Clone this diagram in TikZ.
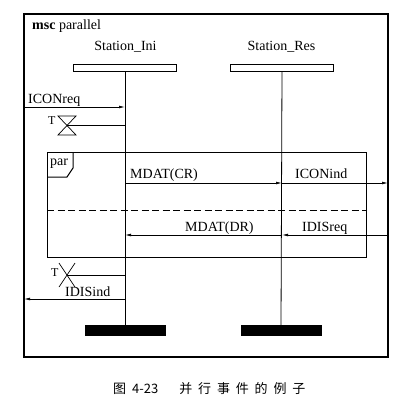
\documentclass[tikz,border=0pt]{standalone}
\usepackage{fontspec}
\setmainfont{Liberation Serif}
\newfontfamily\cjk{Noto Sans CJK SC}
\usetikzlibrary{arrows.meta,positioning}

\tikzset{
  msctext/.style={font=\fontsize{14}{16}\selectfont, inner sep=0pt, anchor=base west},
  msgarrow/.style={-{Latex[length=6pt,width=2.8pt]}, line width=0.7pt},
  headbox/.style={draw, line width=1pt, minimum width=103pt, minimum height=7pt, inner sep=0pt},
  lifeline/.style={line width=0.8pt},
  endbar/.style={fill=black, minimum width=81pt, minimum height=11pt, inner sep=0pt, anchor=north},
}

\begin{document}
\begin{tikzpicture}[x=1pt, y=-1pt]
    \useasboundingbox (0,0) rectangle (411,410);

    % --- 1. MSC frame ---
    \coordinate (frameNW) at (24,14);
    \coordinate (frameSE) at (388,357);
    \draw[line width=1.3pt] (frameNW) rectangle (frameSE);
    \node[msctext] (title) at (32,29.5) {\textbf{msc} parallel};

    % --- 2. Instances: heads, lifelines, ends ---
    \node[headbox] (ini) at (125,67.5) {};
    \node[msctext, anchor=base] (iniName) at (125.5,50) {Station\_Ini};
    \node[endbar] (iniBar) at (125,325) {};
    \draw[lifeline] (ini.south) -- (iniBar.north);

    \node[headbox] (res) at (282,67.5) {};
    \node[msctext, anchor=base] (resName) at (281.5,50) {Station\_Res};
    \node[endbar] (resBar) at (281,325) {};
    \draw[lifeline] (res.south) -- (resBar.north);

    % --- 3. ICONreq and timer set ---
    \coordinate (reqIn) at (24,107);
    \draw[msgarrow] (reqIn) -- (reqIn -| ini);
    \node[msctext] (reqLabel) at (28,103) {ICONreq};

    \coordinate (setT) at (67,125.5);
    \draw[line width=0.7pt] (58,116) -- (76,116) -- (58,135) -- (76,135) -- cycle;
    \draw[lifeline] (setT) -- (setT -| ini);
    \node[msctext, font=\fontsize{12}{14}\selectfont] (setLabel) at (48,124.5) {T};

    % --- 4. Parallel inline expression ---
    \draw[line width=1pt] (47,152) rectangle (366,257);
    \draw[line width=1pt] (47,177) -- (67,177) -- (73,168) -- (73,152);
    \node[msctext] (parLabel) at (50,165) {par};
    \draw[line width=0.7pt, dash pattern=on 7pt off 3.5pt] (47,210) -- (366,210);

    % first operand: CR / ICONind
    \coordinate (crRow) at (0,183);
    \draw[msgarrow] (crRow -| ini) -- (crRow -| res);
    \draw[msgarrow] (crRow -| res) -- (crRow -| frameSE);
    \node[msctext] (crLabel) at (130,178.5) {MDAT(CR)};
    \node[msctext] (indLabel) at (295,178.5) {ICONind};

    % second operand: IDISreq / DR
    \coordinate (drRow) at (0,235);
    \draw[msgarrow] (drRow -| frameSE) -- (drRow -| res);
    \draw[msgarrow] (drRow -| res) -- (drRow -| ini);
    \node[msctext] (drLabel) at (185,231) {MDAT(DR)};
    \node[msctext] (disLabel) at (302,231) {IDISreq};

    % --- 5. Timeout and IDISind ---
    \coordinate (outT) at (67,275);
    \draw[line width=0.7pt] (59,263) -- (75,287) (59,287) -- (75,263);
    \draw[lifeline] (outT) -- (outT -| ini);
    \node[msctext, font=\fontsize{12}{14}\selectfont] (outLabel) at (51,276) {T};

    \coordinate (disRow) at (0,299);
    \draw[msgarrow] (disRow -| ini) -- (disRow -| frameNW);
    \node[msctext] (disIndLabel) at (65,296.5) {IDISind};

    % --- 6. Caption ---
    \node[inner sep=0pt, anchor=base west, font=\fontsize{13}{15}\selectfont] (caption) at (113,393)
        {\cjk 图\hspace{6pt}4-23\hspace{21pt}\addfontfeature{LetterSpace=45}并行事件的例子};
\end{tikzpicture}
\end{document}
